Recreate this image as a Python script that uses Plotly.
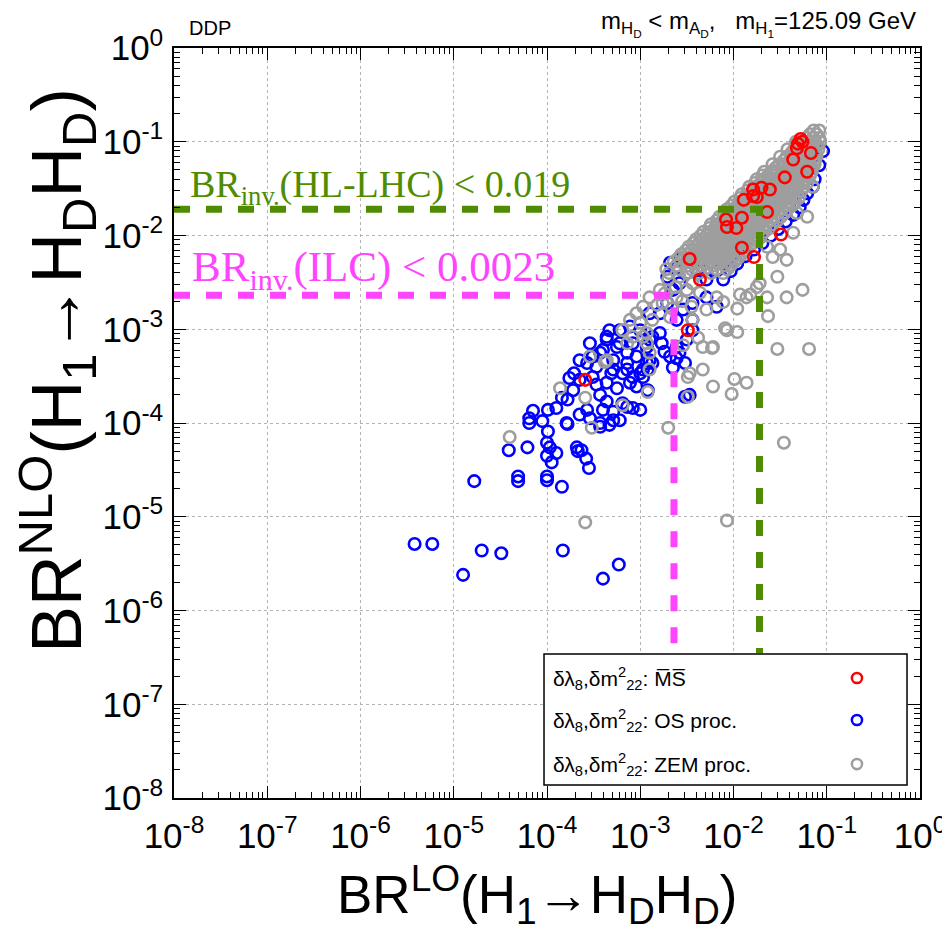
import numpy as np
import plotly.graph_objects as go

# ---------------- data (log10 of the branching ratios) ----------------
# MS-bar scheme (red)
ms_lo_exp = [-1.26, -1.31, -1.32, -1.28, -1.17, -1.36, -1.21, -1.45, -1.61, -1.70,
             -1.79, -1.79, -1.75, -1.89, -1.64, -1.91, -2.08, -2.07, -1.97, -1.49,
             -1.91, -1.78, -2.47, -2.36, -2.49, -3.59]
ms_nlo_exp = [-1.00, -1.02, -1.07, -0.97, -1.12, -1.19, -1.32, -1.38, -1.51, -1.49,
              -1.51, -1.58, -1.59, -1.62, -1.75, -1.81, -1.83, -1.91, -1.92, -1.99,
              -2.13, -2.23, -2.25, -2.47, -3.01, -3.54]

# OS process-dependent scheme (blue)
os_lo_exp = [
    -5.42, -5.23, -4.70, -4.49, -4.90, -3.83, -3.40, -3.23,
    -4.78, -4.31, -4.00, -3.84, -4.41, -4.21, -4.00, -4.00, -3.95, -3.90, -3.67, -3.58,
    -3.55, -3.99, -4.19, -4.15, -4.05, -3.78, -3.99, -3.90, -3.78, -3.84, -3.97,
    -3.65, -3.57, -3.54, -3.63, -4.31, -4.00,
    -3.72, -3.65, -3.76, -3.51, -3.47, -3.43, -3.36, -3.40, -3.29, -3.22, -3.33, -3.43,
    -3.19, -3.08, -3.00, -3.11, -3.25, -3.36, -3.31, -3.19, -3.08, -3.04, -2.97, -2.90,
    -3.04, -3.14, -3.29, -3.40, -3.51, -3.57, -3.65, -3.54, -3.36, -3.22, -3.08, -2.93, -2.87,
    -2.52, -2.47, -2.65, -2.52, -2.58, -2.74, -2.87, -2.97, -3.14, -3.29, -3.43, -3.79, -4.19, -3.68,
    -2.61, -2.92, -2.92, -2.77, -2.44,
    -2.61, -2.71, -2.50, -2.39, -2.29, -2.18, -2.29, -2.44, -2.54, -2.61, -2.44, -2.50, -2.61,
    -2.68, -2.79, -2.90, -3.00, -3.11, -3.22, -3.33, -3.36, -3.25, -3.14, -2.93, -3.43, -3.71,
    -3.47, -3.29, -3.14, -3.00, -2.90, -2.79, -2.71, -2.65, -2.58, -2.68, -2.58, -2.36, -2.25,
    -2.18, -2.15, -2.11,
    -1.04, -1.08, -1.13, -1.21, -1.29, -1.44, -1.60, -1.78, -1.96, -1.15, -1.25, -1.36,
    -1.52, -1.69, -1.87, -2.03,
]
os_nlo_exp = [
    -5.29, -5.29, -5.36, -5.39, -5.62, -5.36, -5.66, -5.51,
    -4.62, -4.62, -4.61, -4.68, -4.29, -4.26, -4.21, -4.35, -4.42, -4.32, -4.30, -4.38,
    -4.48, -4.09, -3.95, -3.87, -3.98, -4.01, -3.86, -3.84, -3.75, -3.73, -4.26,
    -3.91, -3.86, -3.95, -4.29, -4.57, -4.57,
    -3.65, -3.54, -3.52, -3.51, -3.59, -3.70, -3.77, -3.86, -3.88, -3.97, -4.02, -4.04,
    -3.79, -3.84, -3.86, -3.57, -3.63, -3.57, -3.47, -3.47, -3.51, -3.61, -3.43, -3.33,
    -3.29, -3.36, -3.33, -3.22, -3.29, -3.36, -3.33, -3.15, -3.08, -3.15, -3.15, -3.19, -3.08,
    -3.72, -3.70, -3.41, -3.36, -3.25, -3.24, -3.36, -3.51, -3.83, -3.97, -4.00, -4.00, -4.00, -4.26,
    -3.31, -3.43, -3.65, -3.15, -3.01,
    -2.34, -2.44, -2.40, -2.37, -2.47, -2.76, -2.66, -2.72, -2.79, -2.90, -2.90, -3.11, -3.19,
    -3.29, -3.04, -3.11, -3.01, -2.97, -3.01, -3.01, -3.11, -3.19, -3.25, -3.36, -3.25, -3.47,
    -3.40, -3.43, -3.43, -3.47, -2.83, -2.83, -2.72, -2.58, -2.51, -2.29, -2.26, -2.26, -2.29,
    -2.37, -2.23, -2.47,
    -1.10, -1.25, -1.40, -1.55, -1.70, -1.85, -2.00, -2.15, -2.30, -1.48, -1.62, -1.78,
    -1.93, -2.08, -2.22, -2.38,
]

# ZEM process-dependent scheme (grey)
zem_lo_exp = [
    # dense band
    -1.14, -1.08,
    -1.22, -1.15, -1.08,
    -1.30, -1.23, -1.17, -1.10,
    -1.38, -1.32, -1.25, -1.19, -1.12,
    -1.46, -1.40, -1.33, -1.27, -1.20, -1.13,
    -1.55, -1.49, -1.42, -1.36, -1.29, -1.23, -1.16,
    -1.63, -1.57, -1.50, -1.44, -1.37, -1.31, -1.24, -1.18,
    -1.71, -1.65, -1.58, -1.52, -1.45, -1.39, -1.32, -1.26, -1.21,
    -1.79, -1.73, -1.66, -1.60, -1.53, -1.47, -1.40, -1.34, -1.27,
    -1.87, -1.81, -1.74, -1.68, -1.61, -1.55, -1.48, -1.42, -1.35, -1.30,
    -1.96, -1.89, -1.83, -1.76, -1.70, -1.63, -1.57, -1.50, -1.44, -1.37,
    -2.04, -1.97, -1.91, -1.84, -1.78, -1.71, -1.65, -1.58, -1.52, -1.45,
    -2.12, -2.06, -1.99, -1.93, -1.86, -1.80, -1.73, -1.67, -1.60, -1.53,
    -2.20, -2.14, -2.07, -2.01, -1.94, -1.88, -1.81, -1.75, -1.68, -1.61,
    -2.29, -2.22, -2.16, -2.09, -2.03, -1.96, -1.90, -1.83, -1.77, -1.70,
    -2.37, -2.31, -2.24, -2.18, -2.11, -2.05, -1.98, -1.92, -1.85, -1.79,
    -2.45, -2.39, -2.32, -2.26, -2.19, -2.13, -2.06, -2.00, -1.93, -1.87,
    -2.53, -2.47, -2.40, -2.34, -2.27, -2.21, -2.14, -2.08, -2.01, -1.95,
    -2.61, -2.48, -2.35, -2.22, -2.09, -2.03,
    -2.69, -2.50, -2.37, -2.24, -2.11,
    # dense band, in-between rows
    -1.18, -1.11,
    -1.33, -1.26, -1.20, -1.13, -1.07,
    -1.42, -1.35, -1.29, -1.22, -1.16, -1.09,
    -1.50, -1.43, -1.37, -1.30, -1.24, -1.17, -1.11,
    -1.58, -1.51, -1.45, -1.38, -1.32, -1.25, -1.19, -1.13,
    -1.67, -1.60, -1.54, -1.47, -1.41, -1.34, -1.28, -1.21, -1.16,
    -1.75, -1.68, -1.62, -1.55, -1.49, -1.42, -1.36, -1.29, -1.22,
    -1.83, -1.76, -1.70, -1.63, -1.57, -1.50, -1.44, -1.37, -1.30, -1.25,
    -1.91, -1.84, -1.78, -1.71, -1.65, -1.58, -1.52, -1.45, -1.39, -1.32,
    -1.99, -1.92, -1.86, -1.79, -1.73, -1.66, -1.60, -1.53, -1.47, -1.40, -1.34,
    -2.07, -2.00, -1.94, -1.87, -1.81, -1.74, -1.68, -1.61, -1.55, -1.48, -1.42,
    -2.15, -2.08, -2.02, -1.95, -1.89, -1.82, -1.76, -1.69, -1.63, -1.56, -1.49,
    -2.24, -2.17, -2.11, -2.04, -1.98, -1.91, -1.85, -1.78, -1.72, -1.65, -1.58,
    -2.32, -2.25, -2.19, -2.12, -2.06, -1.99, -1.93, -1.86, -1.80, -1.73, -1.67,
    -2.40, -2.33, -2.27, -2.20, -2.14, -2.07, -2.01, -1.94, -1.88, -1.81, -1.75,
    -2.48, -2.41, -2.35, -2.28, -2.22, -2.15, -2.09, -2.02, -1.96, -1.89, -1.83,
    -2.56, -2.49, -2.43, -2.36, -2.30, -2.23, -2.17, -2.10, -2.04, -1.97, -1.91,
    -2.64, -2.57, -2.51, -2.44, -2.38, -2.31, -2.25, -2.18, -2.12, -2.05, -1.99,
    -2.72, -2.58, -2.45, -2.31, -2.18, -2.07,
    # upper-left edge of the band
    -1.69, -1.77, -1.85, -1.93, -2.02, -2.10, -2.18, -2.26, -2.35, -2.43, -2.51, -2.59,
    # scattered points
    -1.15, -1.21, -1.32, -1.36, -1.43, -1.58, -1.50, -1.64, -1.53, -1.72,
    -1.26, -1.43, -1.63, -1.53, -1.19, -1.93, -1.96, -1.82, -2.11, -2.09,
    -1.96, -2.33, -2.23, -2.33, -1.99, -1.86, -2.02, -2.22, -2.49, -2.49,
    -2.70, -1.46, -2.07, -3.59, -4.40, -2.44, -2.54, -2.38, -1.75, -1.86,
    -2.07, -1.64,
    -2.79, -2.90, -2.97, -3.04, -3.11, -3.00, -2.93, -3.08, -3.14, -3.19,
    -2.93, -3.54, -3.36, -2.61, -2.50, -2.44, -2.58, -2.36, -2.22, -2.47,
    -2.18, -2.29, -2.82, -2.68, -2.76, -2.87, -2.90, -3.86, -3.38, -3.59,
    -3.52, -3.19, -2.90, -2.92, -2.97,
    -2.70, -2.62, -2.74, -2.55, -2.45, -2.66,
]
zem_nlo_exp = [
    # dense band
    -0.88, -0.88,
    -0.96, -0.96, -0.96,
    -1.04, -1.04, -1.04, -1.04,
    -1.12, -1.12, -1.12, -1.12, -1.12,
    -1.20, -1.20, -1.20, -1.20, -1.20, -1.20,
    -1.28, -1.28, -1.28, -1.28, -1.28, -1.28, -1.28,
    -1.36, -1.36, -1.36, -1.36, -1.36, -1.36, -1.36, -1.36,
    -1.44, -1.44, -1.44, -1.44, -1.44, -1.44, -1.44, -1.44, -1.44,
    -1.52, -1.52, -1.52, -1.52, -1.52, -1.52, -1.52, -1.52, -1.52,
    -1.60, -1.60, -1.60, -1.60, -1.60, -1.60, -1.60, -1.60, -1.60, -1.60,
    -1.68, -1.68, -1.68, -1.68, -1.68, -1.68, -1.68, -1.68, -1.68, -1.68,
    -1.76, -1.76, -1.76, -1.76, -1.76, -1.76, -1.76, -1.76, -1.76, -1.76,
    -1.84, -1.84, -1.84, -1.84, -1.84, -1.84, -1.84, -1.84, -1.84, -1.84,
    -1.92, -1.92, -1.92, -1.92, -1.92, -1.92, -1.92, -1.92, -1.92, -1.92,
    -2.00, -2.00, -2.00, -2.00, -2.00, -2.00, -2.00, -2.00, -2.00, -2.00,
    -2.08, -2.08, -2.08, -2.08, -2.08, -2.08, -2.08, -2.08, -2.08, -2.08,
    -2.16, -2.16, -2.16, -2.16, -2.16, -2.16, -2.16, -2.16, -2.16, -2.16,
    -2.24, -2.24, -2.24, -2.24, -2.24, -2.24, -2.24, -2.24, -2.24, -2.24,
    -2.32, -2.32, -2.32, -2.32, -2.32, -2.32,
    -2.40, -2.40, -2.40, -2.40, -2.40,
    # dense band, in-between rows
    -0.92, -0.92,
    -1.00, -1.00, -1.00, -1.00, -1.00,
    -1.08, -1.08, -1.08, -1.08, -1.08, -1.08,
    -1.16, -1.16, -1.16, -1.16, -1.16, -1.16, -1.16,
    -1.24, -1.24, -1.24, -1.24, -1.24, -1.24, -1.24, -1.24,
    -1.32, -1.32, -1.32, -1.32, -1.32, -1.32, -1.32, -1.32, -1.32,
    -1.40, -1.40, -1.40, -1.40, -1.40, -1.40, -1.40, -1.40, -1.40,
    -1.48, -1.48, -1.48, -1.48, -1.48, -1.48, -1.48, -1.48, -1.48, -1.48,
    -1.56, -1.56, -1.56, -1.56, -1.56, -1.56, -1.56, -1.56, -1.56, -1.56,
    -1.64, -1.64, -1.64, -1.64, -1.64, -1.64, -1.64, -1.64, -1.64, -1.64, -1.64,
    -1.72, -1.72, -1.72, -1.72, -1.72, -1.72, -1.72, -1.72, -1.72, -1.72, -1.72,
    -1.80, -1.80, -1.80, -1.80, -1.80, -1.80, -1.80, -1.80, -1.80, -1.80, -1.80,
    -1.88, -1.88, -1.88, -1.88, -1.88, -1.88, -1.88, -1.88, -1.88, -1.88, -1.88,
    -1.96, -1.96, -1.96, -1.96, -1.96, -1.96, -1.96, -1.96, -1.96, -1.96, -1.96,
    -2.04, -2.04, -2.04, -2.04, -2.04, -2.04, -2.04, -2.04, -2.04, -2.04, -2.04,
    -2.12, -2.12, -2.12, -2.12, -2.12, -2.12, -2.12, -2.12, -2.12, -2.12, -2.12,
    -2.20, -2.20, -2.20, -2.20, -2.20, -2.20, -2.20, -2.20, -2.20, -2.20, -2.20,
    -2.28, -2.28, -2.28, -2.28, -2.28, -2.28, -2.28, -2.28, -2.28, -2.28, -2.28,
    -2.36, -2.36, -2.36, -2.36, -2.36, -2.36,
    # upper-left edge of the band
    -1.36, -1.44, -1.52, -1.60, -1.68, -1.76, -1.84, -1.92, -2.00, -2.08, -2.16, -2.24,
    # scattered points
    -1.48, -1.80, -1.76, -1.97, -2.26, -2.23, -2.15, -2.12, -2.44, -2.51,
    -2.58, -2.66, -2.86, -3.21, -3.21, -2.63, -2.78, -2.63, -2.71, -2.99,
    -3.03, -3.19, -3.20, -3.43, -3.53, -3.57, -3.69, -3.61, -3.51, -3.72,
    -4.05, -4.21, -5.04, -5.06, -4.15, -2.90, -3.17, -3.09, -2.55, -2.66,
    -3.01, -2.66,
    -2.58, -2.66, -2.76, -2.83, -2.90, -2.93, -3.04, -3.08, -3.15, -3.01,
    -3.15, -3.29, -3.33, -2.66, -2.58, -2.51, -2.44, -2.61, -3.19, -3.47,
    -2.66, -2.79, -2.74, -2.87, -2.72, -2.90, -3.25, -3.63, -3.35, -3.73,
    -4.05, -3.81, -3.43, -3.67, -3.08,
    -2.47, -2.55, -2.62, -2.70, -2.76, -2.78,
]

# limits quoted in the figure
BR_INV_HLLHC = 0.019
BR_INV_ILC = 0.0023
AXIS_MIN = 1e-8
LINE_END_Y = 3.5e-7   # the vertical limit lines stop at the top of the key box

decades = list(range(-8, 1))
tick_vals = [10.0 ** d for d in decades]
tick_text = ["10<sup>%d</sup>" % d for d in decades]
minor_vals = [k * 10.0 ** d for d in range(-8, 0) for k in range(2, 10)]

RED, BLUE, GREY = "#ff0000", "#0000ff", "#9e9e9e"
GREEN, MAGENTA = "#4f8c00", "#ff44ff"
SANS = "Liberation Sans, Arial, sans-serif"
SERIF = "Liberation Serif, Times New Roman, serif"

fig = go.Figure()

def add_series(lo_exp, nlo_exp, color, name):
    fig.add_trace(go.Scatter(
        x=np.power(10.0, lo_exp), y=np.power(10.0, nlo_exp), mode="markers", name=name,
        marker=dict(symbol="circle-open", size=11.5, color=color, line=dict(width=2.6, color=color)),
        showlegend=False))

add_series(os_lo_exp, os_nlo_exp, BLUE, "OS proc.")
add_series(zem_lo_exp, zem_nlo_exp, GREY, "ZEM proc.")
add_series(ms_lo_exp, ms_nlo_exp, RED, "MS")

# limit lines
fig.add_trace(go.Scatter(x=[AXIS_MIN, BR_INV_HLLHC, BR_INV_HLLHC], y=[BR_INV_HLLHC, BR_INV_HLLHC, LINE_END_Y],
                         mode="lines", line=dict(color=GREEN, width=7, dash="16px,16px"),
                         showlegend=False, hoverinfo="skip"))
fig.add_trace(go.Scatter(x=[AXIS_MIN, BR_INV_ILC, BR_INV_ILC], y=[BR_INV_ILC, BR_INV_ILC, LINE_END_Y],
                         mode="lines", line=dict(color=MAGENTA, width=7, dash="16px,16px"),
                         showlegend=False, hoverinfo="skip"))

axis_common = dict(
    type="log", range=[-8, 0], tickvals=tick_vals, ticktext=tick_text, automargin=False,
    ticks="inside", ticklen=12, tickwidth=1.3, tickcolor="black",
    mirror="allticks", showline=True, linecolor="black", linewidth=1.5,
    showgrid=True, gridcolor="#b4b4b4", griddash="dot", gridwidth=1.2, zeroline=False,
    minor=dict(tickvals=minor_vals, ticks="inside", ticklen=6, tickwidth=1, tickcolor="black", showgrid=False),
    tickfont=dict(family=SANS, size=35, color="black"),
)
fig.update_xaxes(**axis_common, ticklabelstandoff=6)
fig.update_yaxes(**axis_common, ticklabelstandoff=2)

# legend box drawn by hand (text left, symbol right)
lx0, lx1, ly0, ly1 = 0.496, 0.9826, 0.0173, 0.192
shapes = [dict(type="rect", xref="paper", yref="paper", x0=lx0, x1=lx1, y0=ly0, y1=ly1,
               fillcolor="white", line=dict(color="black", width=1.5), layer="above")]
rows = [(0.160, RED, "δλ<sub>8</sub>,δm<sup>2</sup><sub>22</sub>: M\u0305S\u0305"),
        (0.104, BLUE, "δλ<sub>8</sub>,δm<sup>2</sup><sub>22</sub>: OS proc."),
        (0.0453, GREY, "δλ<sub>8</sub>,δm<sup>2</sup><sub>22</sub>: ZEM proc.")]
annotations = []
for yy, col, txt in rows:
    shapes.append(dict(type="circle", xref="paper", yref="paper", x0=0.9155 - 0.0068, x1=0.9155 + 0.0068,
                       y0=yy - 0.0068, y1=yy + 0.0068, line=dict(color=col, width=2.5), layer="above"))
    annotations.append(dict(xref="paper", yref="paper", x=0.505, y=yy, xanchor="left", yanchor="middle",
                            text=txt, showarrow=False, font=dict(family=SANS, size=21, color="black")))

annotations += [
    dict(xref="paper", yref="paper", x=0.019, y=0.815, xanchor="left", yanchor="middle",
         text="BR<sub>inv.</sub>(HL-LHC) &lt; 0.019", showarrow=False,
         font=dict(family=SERIF, size=38, color=GREEN)),
    dict(xref="paper", yref="paper", x=0.022, y=0.704, xanchor="left", yanchor="middle",
         text="BR<sub>inv.</sub>(ILC) &lt; 0.0023", showarrow=False,
         font=dict(family=SERIF, size=43, color=MAGENTA)),
    dict(xref="paper", yref="paper", x=0.017, y=1.027, xanchor="left", yanchor="middle",
         text="DDP", showarrow=False, font=dict(family=SANS, size=20, color="black")),
    dict(xref="paper", yref="paper", x=0.997, y=1.033, xanchor="right", yanchor="middle",
         text="m<sub>H<sub>D</sub></sub> &lt; m<sub>A<sub>D</sub></sub>,   m<sub>H<sub>1</sub></sub>=125.09 GeV",
         showarrow=False, font=dict(family=SANS, size=24, color="black")),
    dict(xref="paper", yref="paper", x=0.486, y=-0.128, xanchor="center", yanchor="middle",
         text="BR<sup>LO</sup>(H<sub>1</sub>→H<sub>D</sub>H<sub>D</sub>)", showarrow=False,
         font=dict(family=SANS, size=53, color="black")),
    dict(xref="paper", yref="paper", x=-0.158, y=0.57, xanchor="center", yanchor="middle", textangle=-90,
         text="BR<sup>NLO</sup>(H<sub>1</sub>→H<sub>D</sub>H<sub>D</sub>)", showarrow=False,
         font=dict(family=SANS, size=70, color="black")),
]

# the page body adds an 8 px offset, so the figure is 8 px smaller and its margins 8 px narrower
fig.update_layout(
    width=942, height=925, margin=dict(l=166, r=30, t=40, b=135),
    paper_bgcolor="white", plot_bgcolor="white",
    shapes=shapes, annotations=annotations, showlegend=False,
)

fig.write_html("out.html")
